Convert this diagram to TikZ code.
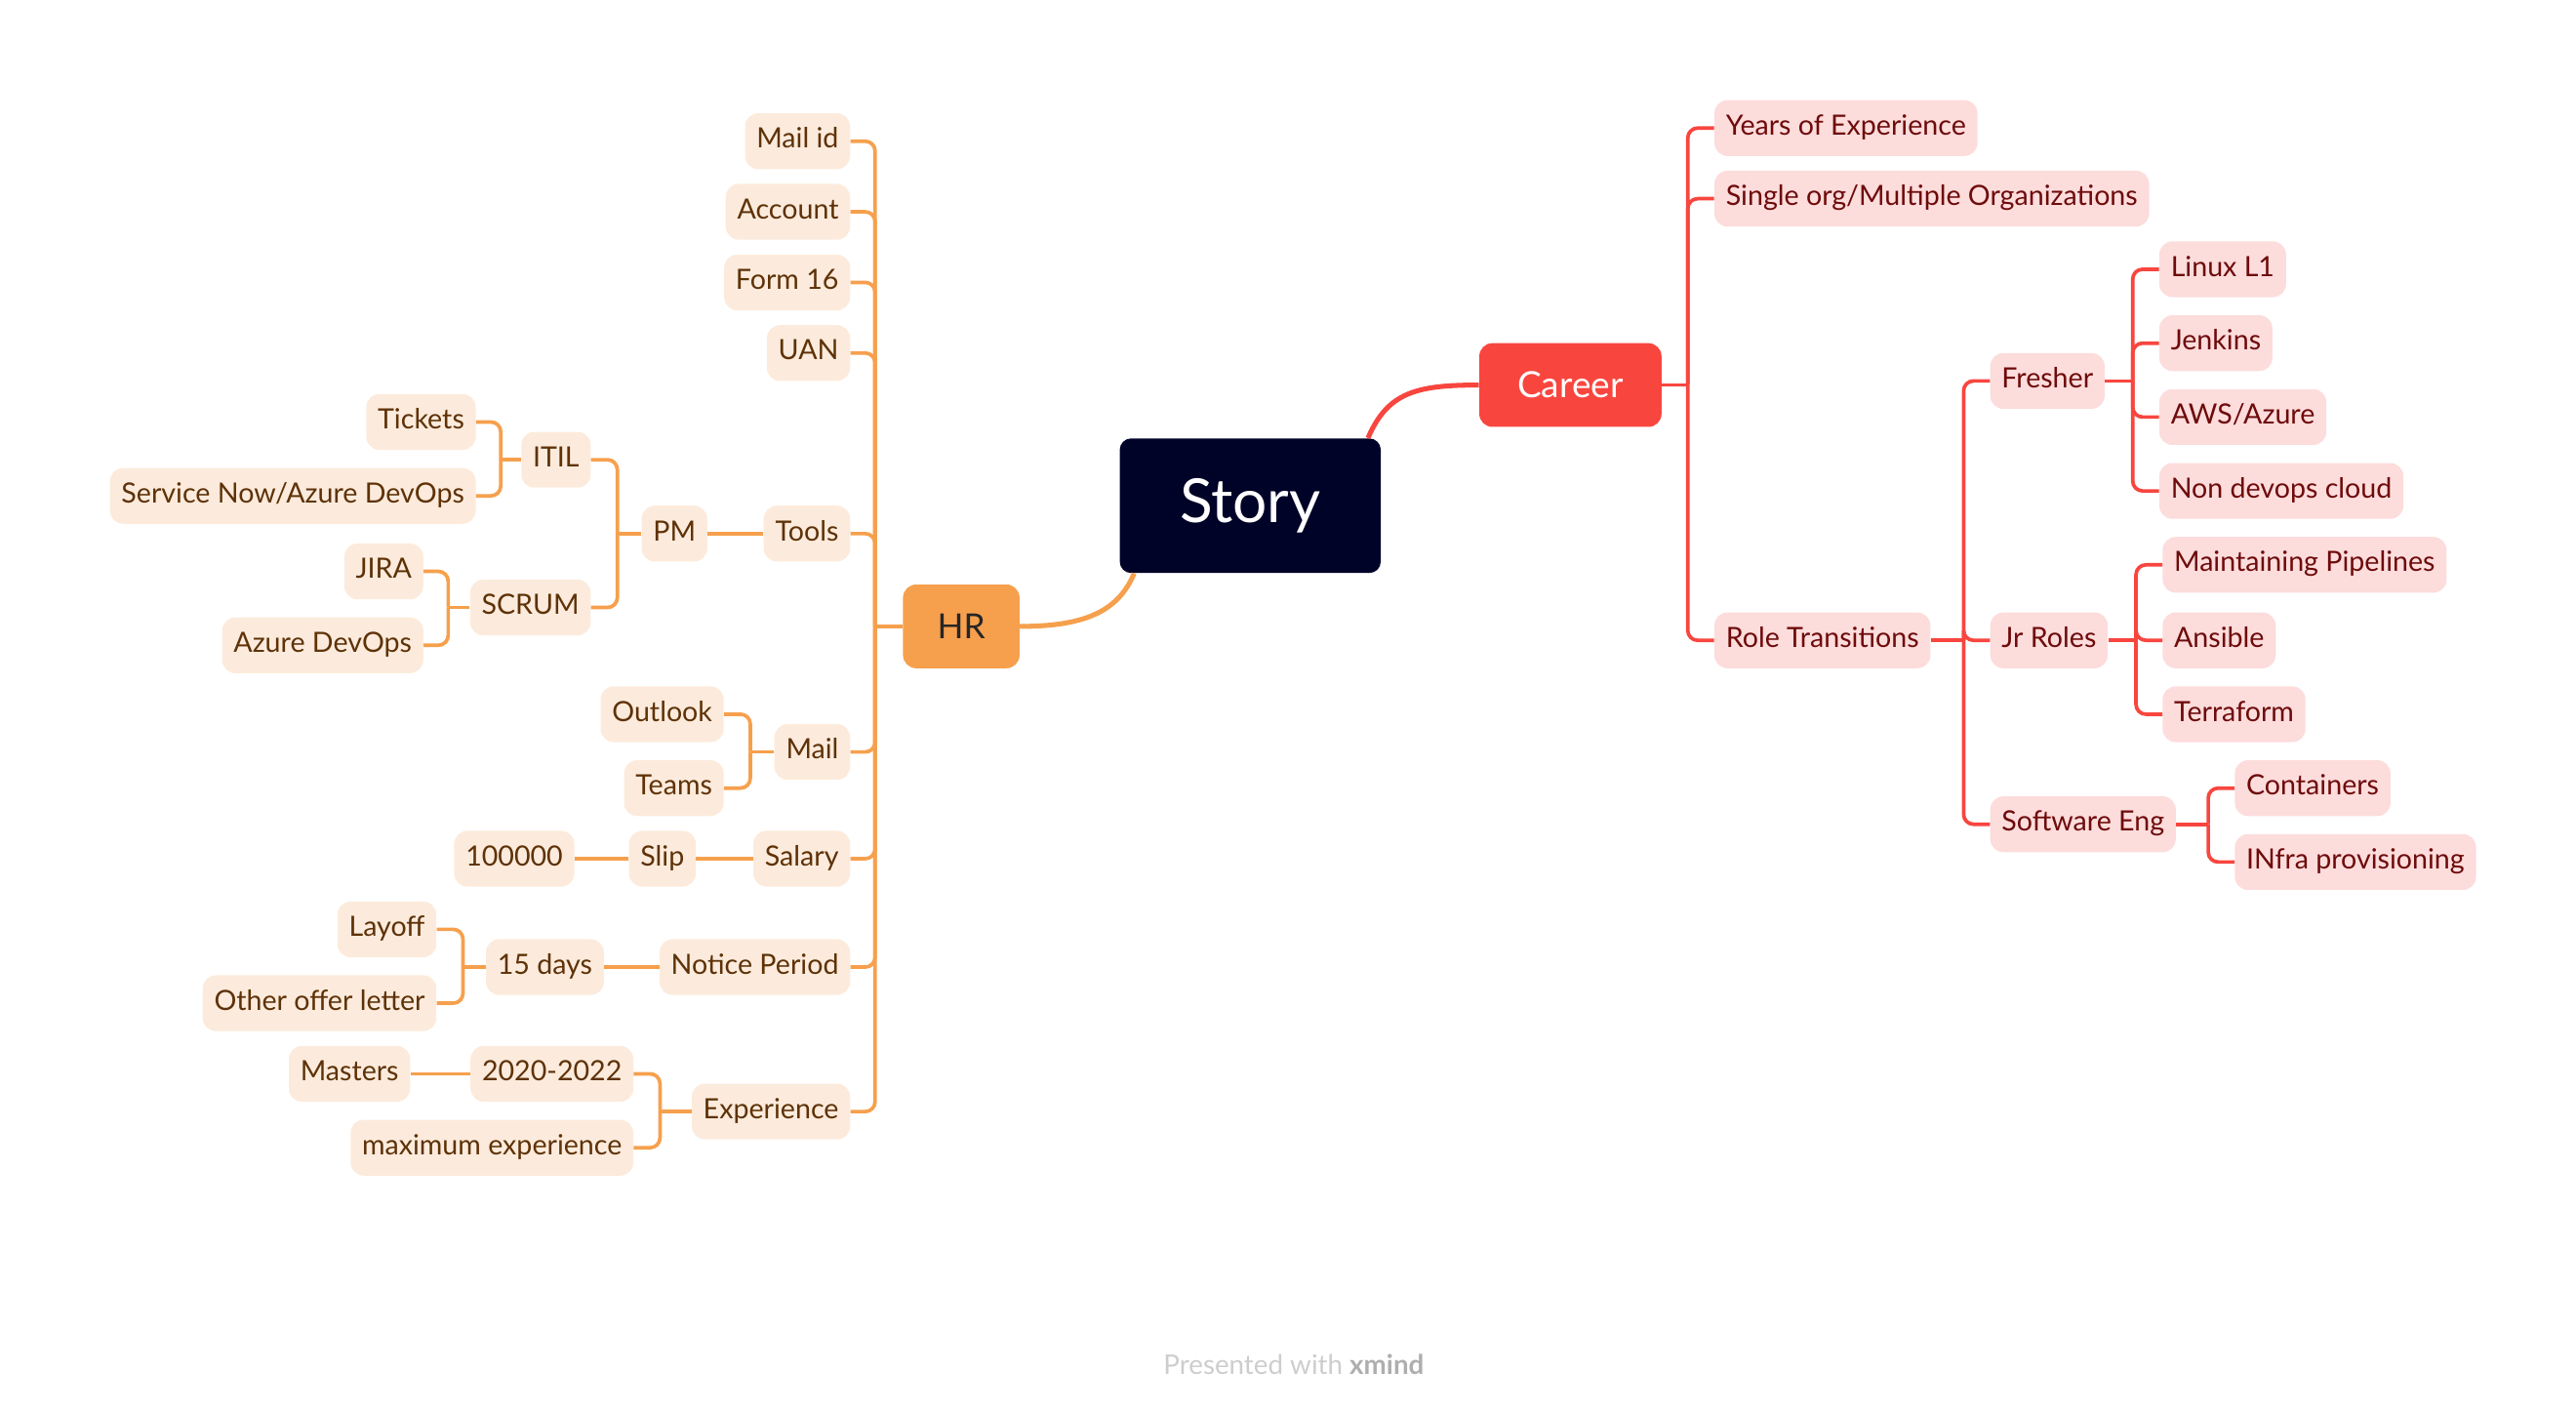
\documentclass[tikz,border=0pt]{standalone}
\usepackage{fontspec}
\setmainfont{Lato}
\definecolor{hrorange}{HTML}{F6A04D}
\definecolor{hrfill}{HTML}{FCEBDC}
\definecolor{hrtext}{HTML}{5E3208}
\definecolor{carred}{HTML}{F8463F}
\definecolor{carfill}{HTML}{FDDCDC}
\definecolor{cartext}{HTML}{6E0B0B}
\definecolor{storyfill}{HTML}{000328}
\definecolor{footgray}{HTML}{CDCDCD}

\begin{document}
\begin{tikzpicture}[x=1pt, y=-1pt,
  topic/.style={rounded corners=8pt, minimum height=34pt, inner xsep=7pt, inner ysep=0pt,
    text height=12pt, text depth=3.5pt, font=\fontsize{17}{20}\selectfont},
  hrbox/.style={topic, fill=hrfill, text=hrtext, anchor=east},
  carbox/.style={topic, fill=carfill, text=cartext, anchor=west},
  hrline/.style={draw=hrorange, line width=2.2pt, rounded corners=6pt},
  carline/.style={draw=carred, line width=2.2pt, rounded corners=6pt}]

\useasboundingbox (-3,-1) rectangle (1566,858.5);

% Central topic
\node[fill=storyfill, text=white, rounded corners=7pt, minimum width=159pt, minimum height=82pt,
  font=\fontsize{37}{40}\selectfont] (story) at (758.5,307) {Story};

% Main branches
\node[fill=carred, text=white, rounded corners=8pt, minimum width=111pt, minimum height=51pt,
  font=\fontsize{22}{24}\selectfont] (career) at (953.5,233.5) {Career};
\node[fill=hrorange, text=black!85, rounded corners=8pt, minimum width=71pt, minimum height=51pt,
  font=\fontsize{21}{24}\selectfont] (hr) at (582.5,380.5) {HR};

\draw[carred, line width=3pt] ([xshift=-8pt]story.north east) .. controls +(12,-28) and +(-38,0) .. (career.west);
\draw[hrorange, line width=3pt] ([xshift=9pt]story.south west) .. controls +(-10,24) and +(38,0) .. (hr.east);

% Career side
\node[carbox] (yoe) at (1041,77) {Years of Experience};
\node[carbox] (sorg) at (1041,120) {Single org/Multiple Organizations};
\node[carbox] (roletr) at (1041,389) {Role Transitions};
\node[carbox] (fresher) at (1209,231) {Fresher};
\node[carbox] (jrroles) at (1209,389) {Jr Roles};
\node[carbox] (softeng) at (1209,501) {Software Eng};
\node[carbox] (linux) at (1312,163) {Linux L1};
\node[carbox] (jenkins) at (1312,208) {Jenkins};
\node[carbox] (aws) at (1312,253) {AWS/Azure};
\node[carbox] (nondev) at (1312,298) {Non devops cloud};
\node[carbox] (maint) at (1314,343) {Maintaining Pipelines};
\node[carbox] (ansible) at (1314,389) {Ansible};
\node[carbox] (terraform) at (1314,434) {Terraform};
\node[carbox] (containers) at (1358,479) {Containers};
\node[carbox] (infra) at (1358,524) {INfra provisioning};

\coordinate (careerT) at (1025,233.5);
\coordinate (roleT) at (1193,389);
\coordinate (fresherT) at (1296,231);
\coordinate (jrT) at (1298,389);
\coordinate (softT) at (1342,501);

\draw[carline] (career.east) -- (careerT);
\foreach \c in {yoe,sorg,roletr} \draw[carline] (careerT) |- (\c.west);
\draw[carline] (roletr.east) -- (roleT);
\foreach \c in {fresher,jrroles,softeng} \draw[carline] (roleT) |- (\c.west);
\draw[carline] (fresher.east) -- (fresherT);
\foreach \c in {linux,jenkins,aws,nondev} \draw[carline] (fresherT) |- (\c.west);
\draw[carline] (jrroles.east) -- (jrT);
\foreach \c in {maint,ansible,terraform} \draw[carline] (jrT) |- (\c.west);
\draw[carline] (softeng.east) -- (softT);
\foreach \c in {containers,infra} \draw[carline] (softT) |- (\c.west);

% HR side
\node[hrbox] (mailid) at (515,85) {Mail id};
\node[hrbox] (account) at (515,128) {Account};
\node[hrbox] (form16) at (515,171) {Form 16};
\node[hrbox] (uan) at (515,214) {UAN};
\node[hrbox] (tools) at (515,324) {Tools};
\node[hrbox] (mail) at (515,457) {Mail};
\node[hrbox] (salary) at (515,522) {Salary};
\node[hrbox] (notice) at (515,588) {Notice Period};
\node[hrbox] (experience) at (515,676) {Experience};

\node[hrbox] (pm) at (428,324) {PM};
\node[hrbox] (itil) at (357,279) {ITIL};
\node[hrbox] (scrum) at (357,369) {SCRUM};
\node[hrbox] (tickets) at (287,256) {Tickets};
\node[hrbox] (servnow) at (287,301) {Service Now/Azure DevOps};
\node[hrbox] (jira) at (255,347) {JIRA};
\node[hrbox] (azdevops) at (255,392) {Azure DevOps};
\node[hrbox] (outlook) at (438,434) {Outlook};
\node[hrbox] (teams) at (438,479) {Teams};
\node[hrbox] (slip) at (421,522) {Slip};
\node[hrbox] (amount) at (347,522) {100000};
\node[hrbox] (days) at (365,588) {15 days};
\node[hrbox] (layoff) at (263,565) {Layoff};
\node[hrbox] (offer) at (263,610) {Other offer letter};
\node[hrbox] (years) at (383,653) {2020-2022};
\node[hrbox] (maxexp) at (383,698) {maximum experience};
\node[hrbox] (masters) at (247,653) {Masters};

\coordinate (hrT) at (530,380.5);
\coordinate (pmT) at (373,324);
\coordinate (itilT) at (302,279);
\coordinate (scrumT) at (270,369);
\coordinate (mailT) at (454,457);
\coordinate (daysT) at (279,588);
\coordinate (expT) at (399,676);

\draw[hrline] (hr.west) -- (hrT);
\foreach \c in {mailid,account,form16,uan,tools,mail,salary,notice,experience} \draw[hrline] (hrT) |- (\c.east);
\draw[hrline] (tools.west) -- (pm.east);
\draw[hrline] (pm.west) -- (pmT);
\foreach \c in {itil,scrum} \draw[hrline] (pmT) |- (\c.east);
\draw[hrline] (itil.west) -- (itilT);
\foreach \c in {tickets,servnow} \draw[hrline] (itilT) |- (\c.east);
\draw[hrline] (scrum.west) -- (scrumT);
\foreach \c in {jira,azdevops} \draw[hrline] (scrumT) |- (\c.east);
\draw[hrline] (mail.west) -- (mailT);
\foreach \c in {outlook,teams} \draw[hrline] (mailT) |- (\c.east);
\draw[hrline] (salary.west) -- (slip.east);
\draw[hrline] (slip.west) -- (amount.east);
\draw[hrline] (notice.west) -- (days.east);
\draw[hrline] (days.west) -- (daysT);
\foreach \c in {layoff,offer} \draw[hrline] (daysT) |- (\c.east);
\draw[hrline] (experience.west) -- (expT);
\foreach \c in {years,maxexp} \draw[hrline] (expT) |- (\c.east);
\draw[hrline] (years.west) -- (masters.east);

% Footer
\node[text=footgray, font=\fontsize{16.5}{19}\selectfont] (footer) at (785,830) {Presented with \textcolor{footgray!85!black}{\textbf{xmind}}};

\end{tikzpicture}
\end{document}
